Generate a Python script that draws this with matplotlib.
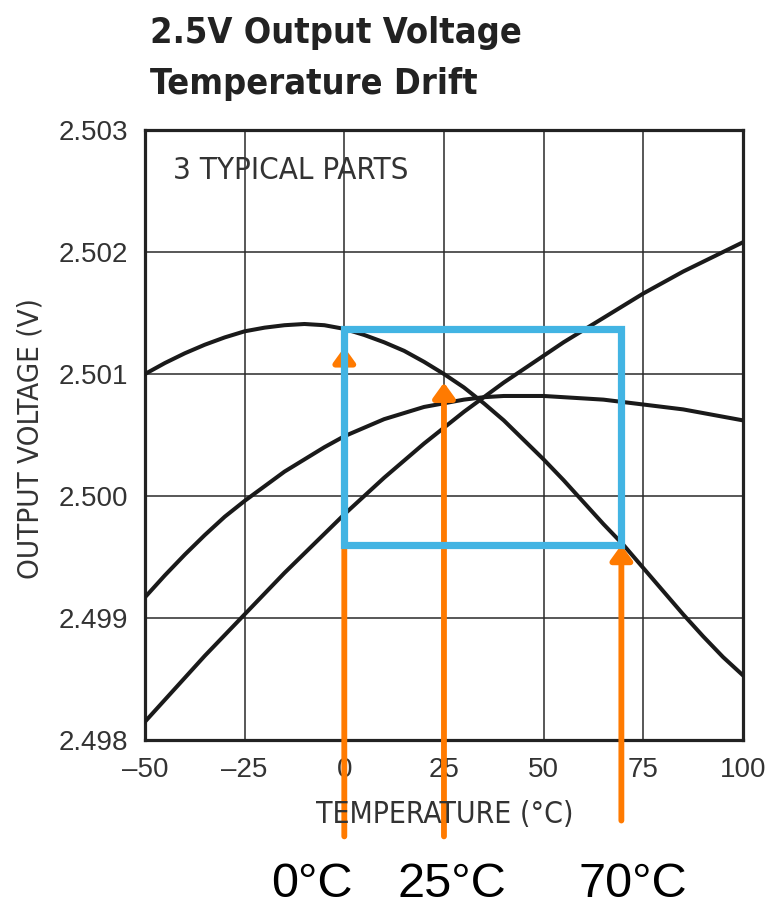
import matplotlib
matplotlib.use("Agg")
import matplotlib.pyplot as plt
from matplotlib import font_manager
from matplotlib.font_manager import FontProperties
from matplotlib.patches import Rectangle

# temperatures (deg C) at which the curves were read
temps = [-50, -45, -40, -35, -30, -25, -20, -15, -10, -5, 0, 5, 10, 15, 20, 25,
         30, 35, 40, 45, 50, 55, 60, 65, 70, 75, 80, 85, 90, 95, 100]

# three typical parts, output voltage (V)
part_a = [2.50100, 2.50109, 2.50117, 2.50124, 2.50130, 2.50135, 2.50138, 2.50140,
          2.50141, 2.50140, 2.50137, 2.50132, 2.50126, 2.50119, 2.50110, 2.50100,
          2.50089, 2.50076, 2.50062, 2.50046, 2.50030, 2.50013, 2.49995, 2.49977,
          2.49960, 2.49941, 2.49922, 2.49903, 2.49885, 2.49868, 2.49853]
part_b = [2.49917, 2.49935, 2.49952, 2.49968, 2.49983, 2.49996, 2.50008, 2.50020,
          2.50030, 2.50040, 2.50049, 2.50056, 2.50063, 2.50068, 2.50073, 2.50076,
          2.50079, 2.50081, 2.50082, 2.50082, 2.50082, 2.50081, 2.50080, 2.50079,
          2.50077, 2.50075, 2.50073, 2.50071, 2.50068, 2.50065, 2.50062]
part_c = [2.49815, 2.49833, 2.49851, 2.49869, 2.49886, 2.49903, 2.49920, 2.49937,
          2.49953, 2.49969, 2.49985, 2.50000, 2.50015, 2.50029, 2.50043, 2.50056,
          2.50069, 2.50081, 2.50093, 2.50104, 2.50115, 2.50126, 2.50136, 2.50146,
          2.50156, 2.50166, 2.50175, 2.50184, 2.50192, 2.50200, 2.50208]

xticks = [-50, -25, 0, 25, 50, 75, 100]
xticklabels = ["\u201350", "\u201325", "0", "25", "50", "75", "100"]
yticks = [2.498, 2.499, 2.500, 2.501, 2.502, 2.503]

# highlighted temperatures and where their arrows point to
mark_temps = [0, 25, 69.5]
mark_tips = [2.50122, 2.50093, 2.49960]
mark_bottoms = [2.49721, 2.49721, 2.49734]
mark_labels = ["0°C", "25°C", "70°C"]

# window box (temp range, voltage range)
box_t = [0, 69.5]
box_v = [2.49960, 2.50137]

orange = "#FF7A00"
blue = "#42B4E3"
grey = "#333333"


def narrow_font(bold):
    # look for an installed condensed / narrow face, else plain Liberation Sans
    for f in font_manager.fontManager.ttflist:
        cond = (f.stretch in ("condensed", "semi-condensed", "extra-condensed")
                or "Narrow" in f.name or "Condensed" in f.name)
        w = f.weight if isinstance(f.weight, int) else (700 if f.weight == "bold" else 400)
        if cond and ((w >= 600) == bold) and f.style == "normal":
            return FontProperties(fname=f.fname)
    return FontProperties(family=["Liberation Sans", "DejaVu Sans"],
                          weight="bold" if bold else "normal")


def fit(txt, fig, size_px, vertical=False):
    # scale the font so the text spans size_px pixels
    r = fig.canvas.get_renderer()
    bb = txt.get_window_extent(r)
    cur = bb.height if vertical else bb.width
    txt.set_fontsize(txt.get_fontsize() * size_px / cur)


fig = plt.figure(figsize=(7.74, 9.06), dpi=100)
ax = fig.add_axes([0.1873, 0.1832, 0.7726, 0.6733])

for v in (part_a, part_b, part_c):
    ax.plot(temps, v, color="#1a1a1a", lw=2.9, zorder=3)

ax.set_xlim(-50, 100)
ax.set_ylim(2.498, 2.503)
ax.set_xticks(xticks)
ax.set_yticks(yticks)
ax.set_xticklabels(xticklabels, family=["Liberation Sans", "DejaVu Sans"],
                   fontsize=20, color=grey)
ax.set_yticklabels(["%.3f" % y for y in yticks], family=["Liberation Sans", "DejaVu Sans"],
                   fontsize=20, color=grey)
ax.tick_params(length=0, pad=12)
ax.grid(True, color="#2a2a2a", lw=1.1)
ax.set_axisbelow(True)
for s in ax.spines.values():
    s.set_linewidth(2.3)
    s.set_color("#222222")

fp = narrow_font(False)
fpb = narrow_font(True)

t_parts = ax.text(-43, 2.50267, "3 TYPICAL PARTS", fontproperties=fp, fontsize=20,
                  color=grey, va="center", ha="left")
t_xlab = fig.text(0.5749, 0.1005, "TEMPERATURE (°C)", fontproperties=fp, fontsize=20,
                  color=grey, ha="center", va="center")
t_ylab = fig.text(0.039, 0.516, "OUTPUT VOLTAGE (V)", fontproperties=fp, fontsize=20,
                  color=grey, ha="center", va="center", rotation=90)
t1 = fig.text(0.194, 0.9525, "2.5V Output Voltage", fontproperties=fpb, fontsize=30,
              color="#222222", ha="left", va="baseline")
t2 = fig.text(0.194, 0.8965, "Temperature Drift", fontproperties=fpb, fontsize=30,
              color="#222222", ha="left", va="baseline")

fit(t_parts, fig, 235)
fit(t_xlab, fig, 258)
fit(t_ylab, fig, 280, vertical=True)
fit(t1, fig, 372)
t2.set_fontsize(t1.get_fontsize())

# orange arrows
for x, tip, bot in zip(mark_temps, mark_tips, mark_bottoms):
    ax.annotate("", xy=(x, tip), xytext=(x, bot),
                arrowprops=dict(arrowstyle="-|>,head_length=0.9,head_width=0.65",
                                color=orange, lw=4.2, mutation_scale=10,
                                shrinkA=0, shrinkB=0),
                annotation_clip=False, zorder=4)

# blue window
ax.add_patch(Rectangle((box_t[0], box_v[0]), box_t[1] - box_t[0], box_v[1] - box_v[0],
                       fill=False, edgecolor=blue, lw=5.2, zorder=5, clip_on=False))

label_x = [0.403, 0.584, 0.817]
for lx, lab in zip(label_x, mark_labels):
    fig.text(lx, 0.0095, lab, family=["Liberation Sans", "DejaVu Sans"], fontsize=35,
             color="black", ha="center", va="baseline")

fig.savefig("out.png", dpi=100)
